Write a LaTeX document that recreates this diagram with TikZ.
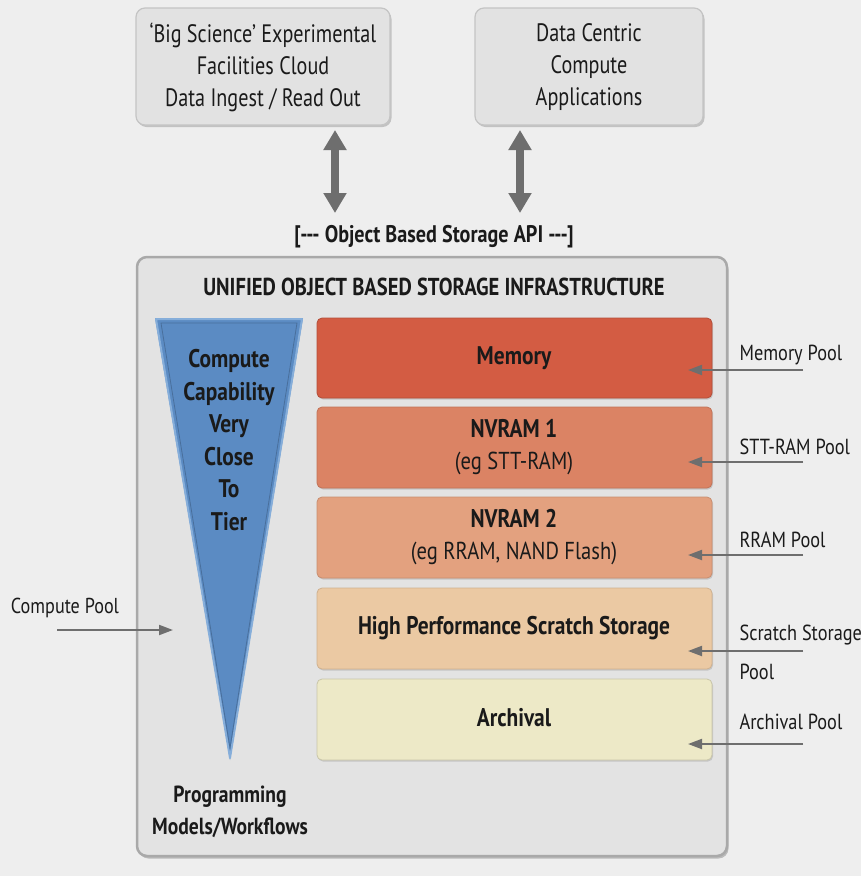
\documentclass[tikz,border=0pt]{standalone}
\usepackage{fontspec}
\setmainfont[FakeStretch=0.84]{PT Sans}
\newfontfamily\topfont[FakeStretch=0.8]{PT Sans}
\newfontfamily\labfont[FakeStretch=0.84]{PT Sans}
\usetikzlibrary{arrows.meta,shadows}
\definecolor{bg}{HTML}{EEEEEE}
\definecolor{topfill}{HTML}{E2E2E2}
\definecolor{topdraw}{HTML}{C4C4C4}
\definecolor{bigfill}{HTML}{E3E3E3}
\definecolor{bigdraw}{HTML}{A9A9A9}
\definecolor{arrowgray}{HTML}{6E6E6E}
\definecolor{txt}{HTML}{1A1A1A}
\definecolor{memc}{HTML}{D35C43}
\definecolor{nv1c}{HTML}{DB8364}
\definecolor{nv2c}{HTML}{E3A17F}
\definecolor{scrc}{HTML}{EBC9A3}
\definecolor{arcc}{HTML}{EDE9C7}
\definecolor{trifill}{HTML}{5B8BC3}
\definecolor{tridraw}{HTML}{86AEDA}
\newcommand\mysubtxt{\labfont\mdseries\fontsize{24.5}{32}\selectfont}
\tikzset{
  topbox/.style={draw=topdraw, fill=topfill, line width=1.2pt, rounded corners=9pt,
    drop shadow={shadow xshift=1.5pt, shadow yshift=-2pt, fill=black!35, opacity=0.6}},
  layerbox/.style={rounded corners=5pt, line width=0.8pt,
    drop shadow={shadow xshift=1pt, shadow yshift=-1.5pt, fill=black!30, opacity=0.6}},
  toptext/.style={align=center, text=txt, font=\topfont\fontsize{25.2}{32}\selectfont},
  layertext/.style={align=center, text=txt, font=\bfseries\fontsize{25.5}{32}\selectfont},
  pooltext/.style={anchor=west, text=txt, font=\labfont\fontsize{21.8}{39}\selectfont, align=left},
  dblarrow/.style={arrowgray, line width=8pt, {Triangle[width=22pt,length=20pt]}-{Triangle[width=22pt,length=20pt]}},
  poolarrow/.style={arrowgray, line width=2pt, -{Triangle[width=10pt,length=14pt]}}
}
\begin{document}
\begin{tikzpicture}[x=1pt,y=-1pt]
\useasboundingbox (0,0) rectangle (861,876);
\fill[bg] (0,0) rectangle (861,876);

% top boxes
\draw[topbox] (136,8) rectangle (390,125);
\node[toptext] (box1) at (263,67) {‘Big Science’ Experimental\\Facilities Cloud\\Data Ingest / Read Out};
\draw[topbox] (475,8) rectangle (703,125);
\node[toptext] (box2) at (589,67) {Data Centric\\Compute\\Applications};

% API label
\node[text=txt, font=\bfseries\fontsize{24}{28}\selectfont] (api) at (434,237) {[{-}{-}{-} Object Based Storage API {-}{-}{-}]};

\coordinate (a1t) at (335,130);
\coordinate (a1b) at (335,213);
\coordinate (a2t) at (520,130);
\coordinate (a2b) at (520,213);
\draw[dblarrow] (a1t) -- (a1b);
\draw[dblarrow] (a2t) -- (a2b);

% big container
\draw[draw=bigdraw, fill=bigfill, line width=2.5pt, rounded corners=10pt,
  drop shadow={shadow xshift=1.5pt, shadow yshift=-2.5pt, fill=black!40, opacity=0.6}] (137,257) rectangle (727,856);
\node[text=txt, font=\bfseries\fontsize{24.5}{28}\selectfont] (title) at (434,287) {UNIFIED OBJECT BASED STORAGE INFRASTRUCTURE};

% triangle
\fill[trifill] (155,318) -- (303,318) -- (230,760) -- cycle;
\draw[tridraw, line width=2pt, line join=round] (156,319) -- (302,319) -- (230,758) -- cycle;
\draw[trifill!80!black, line width=0.8pt] (161,323) -- (297,323) -- (230,748) -- cycle;
\node[text=txt, align=center, font=\bfseries\fontsize{25.5}{32.5}\selectfont] (tri) at (229,440) {Compute\\Capability\\Very\\Close\\To\\Tier};
\node[text=txt, align=center, font=\bfseries\fontsize{23.3}{32}\selectfont] (prog) at (230,812) {Programming\\Models/Workflows};

% layers
\draw[layerbox, fill=memc, draw=memc!85!black] (317,318) rectangle (712,398);
\node[layertext] (mem) at (514,358) {Memory};
\draw[layerbox, fill=nv1c, draw=nv1c!88!black] (317,407) rectangle (712,488);
\node[layertext] (nv1) at (514,447) {NVRAM 1\\{\mysubtxt(eg STT-RAM)}};
\draw[layerbox, fill=nv2c, draw=nv2c!88!black] (317,497) rectangle (712,578);
\node[layertext] (nv2) at (514,537) {NVRAM 2\\{\mysubtxt(eg RRAM, NAND Flash)}};
\draw[layerbox, fill=scrc, draw=scrc!88!black] (317,588) rectangle (712,669);
\node[layertext] (scr) at (514,628) {High Performance Scratch Storage};
\draw[layerbox, fill=arcc, draw=arcc!85!black] (317,679) rectangle (712,760);
\node[layertext] (arc) at (514,718) {Archival};

% pool labels
\node[pooltext] (pmem) at (736,355) {Memory Pool};
\node[pooltext] (pstt) at (736,447) {STT-RAM Pool};
\node[pooltext] (prram) at (736,540) {RRAM Pool};
\node[pooltext] (pscr) at (736,652) {Scratch Storage\\Pool};
\node[pooltext] (parc) at (736,722) {Archival Pool};

\coordinate (m1) at (803,370); \coordinate (m2) at (688,370);
\coordinate (s1) at (803,462); \coordinate (s2) at (688,462);
\coordinate (r1) at (803,555); \coordinate (r2) at (688,555);
\coordinate (c1) at (803,651); \coordinate (c2) at (688,651);
\coordinate (v1) at (803,744); \coordinate (v2) at (688,744);
\draw[poolarrow] (m1) -- (m2);
\draw[poolarrow] (s1) -- (s2);
\draw[poolarrow] (r1) -- (r2);
\draw[poolarrow] (c1) -- (c2);
\draw[poolarrow] (v1) -- (v2);

% compute pool
\node[text=txt, font=\labfont\fontsize{21.6}{24}\selectfont] (cpool) at (65,608) {Compute Pool};
\coordinate (cp1) at (57,630);
\coordinate (cp2) at (173,630);
\draw[poolarrow] (cp1) -- (cp2);
\end{tikzpicture}
\end{document}
